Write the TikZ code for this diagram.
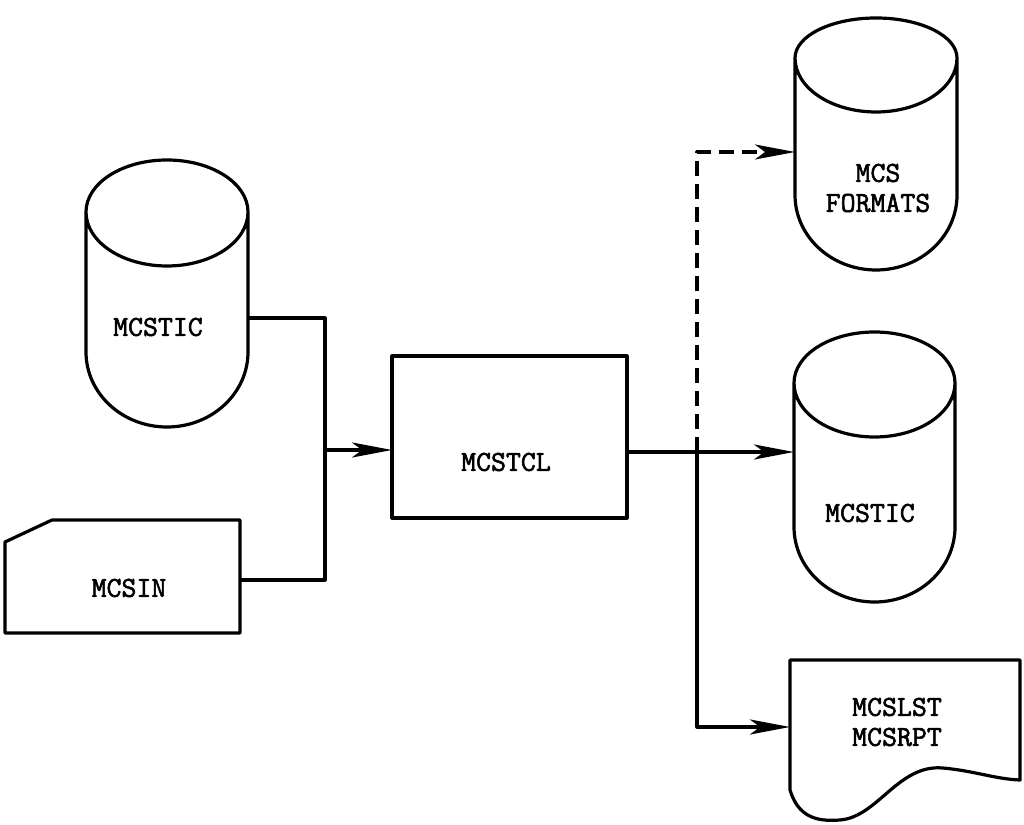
\documentclass[tikz,border=0pt]{standalone}
\usepackage{fontspec}
\setmonofont{Latin Modern Mono}[BoldFont={Latin Modern Mono}, BoldFeatures={FakeBold=2}]
\usetikzlibrary{arrows.meta,calc}
\tikzset{
  line/.style={line width=3.2pt, line join=round},
  shapebox/.style={
    inner sep=0pt,
    outer sep=0pt
  },
  txt/.style={
    font=\ttfamily\bfseries\fontsize{29}{30}\selectfont,
    align=center,
    inner sep=0pt
  },
  arrow/.style={line, -{Stealth[length=40pt,width=15pt,inset=10pt]}},
  dashedarrow/.style={arrow, dash pattern=on 15pt off 8pt}
}
% outline of a disk file drawn round a node (#2 = height of the top dome)
\newcommand\drawdisk[2]{%
  \draw[line] let \p1=(#1.north west), \p2=(#1.south east),
    \n1={(\x2-\x1)/2} in
    (\x1,\y1-#2pt) -- (\x1,\y2+75pt)
    arc[start angle=180,end angle=360,x radius=\n1,y radius=75pt]
    -- (\x2,\y1-#2pt)
    arc[start angle=0,end angle=180,x radius=\n1,y radius=#2pt]
    arc[start angle=180,end angle=360,x radius=\n1,y radius=54pt];}

\begin{document}
\begin{tikzpicture}[x=1pt,y=1pt]
\useasboundingbox (0,0) rectangle (1024,824);

% Inputs
\node[shapebox, minimum width=162, minimum height=267] (tic) at (167,530.5) {};
\drawdisk{tic}{52}
\node[txt] (tictxt) at (158,497) {MCSTIC};

\node[shapebox, minimum width=235, minimum height=113] (card) at (122.5,247.5) {};
\draw[line] ([yshift=-22]card.north west) -- ([xshift=47]card.north west)
  -- (card.north east) -- (card.south east) -- (card.south west) -- cycle;
\node[txt] (cardtxt) at (129,236) {MCSIN};

% Program
\node[shapebox, draw, line, minimum width=235, minimum height=162] (tcl) at (509.5,387) {};
\node[txt] (tcltxt) at (506,362) {MCSTCL};

% Outputs
\node[shapebox, minimum width=162, minimum height=252] (fmt) at (876,680) {};
\drawdisk{fmt}{40}
\node[txt] (fmttxt) at (878,636) {MCS\\FORMATS};

\node[shapebox, minimum width=161, minimum height=270] (ticout) at (874.5,357) {};
\drawdisk{ticout}{51}
\node[txt] (ticouttxt) at (870,311) {MCSTIC};

\node[shapebox, minimum width=230, minimum height=130] (lst) at (905,99) {};
\draw[line] (lst.south west)
  .. controls +(8,-26) and +(-25,-2) .. ($(lst.south west)+(50,-30)$)
  .. controls +(38,3) and +(-45,4) .. ($(lst.south west)+(153,22)$)
  .. controls +(32,-3) and +(-25,1) .. ($(lst.south east)+(0,10)$)
  -- (lst.north east) -- (lst.north west) -- cycle;
\node[txt] (lsttxt) at (897,102) {MCSLST\\MCSRPT};

% Joints
\coordinate (jin) at (325,374);
\coordinate (jout) at (697,372);

% Edges
\draw[line] ([yshift=-24.5]tic.east) -| (jin);
\draw[line] ([yshift=-3.5]card.east) -| (jin);
\draw[arrow] (jin) -- (jin -| tcl.west);
\draw[line] (jout -| tcl.east) -- (jout);
\draw[arrow] (jout) -- (jout -| ticout.west);
\draw[dashedarrow] (jout) |- ([yshift=-8]fmt.west);
\draw[arrow] (jout) |- ([yshift=-2]lst.west);

\end{tikzpicture}
\end{document}
